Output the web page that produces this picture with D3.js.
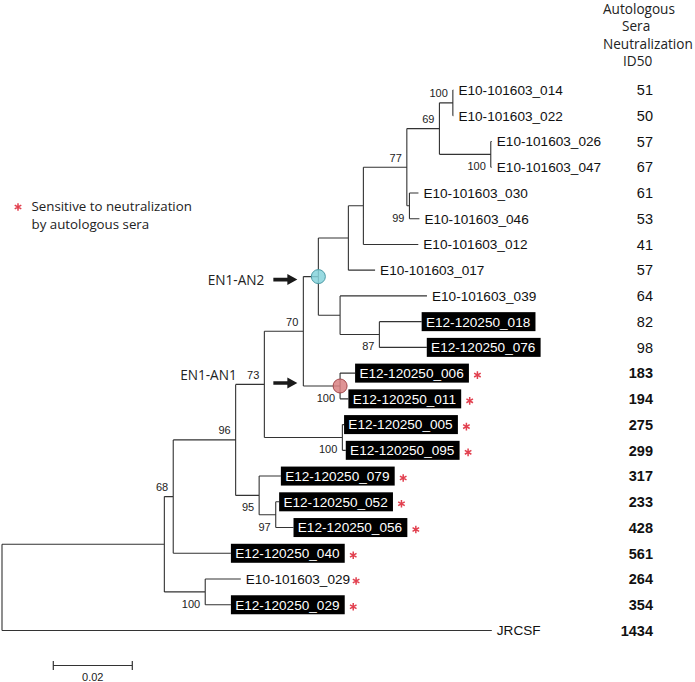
<!DOCTYPE html>
<html><head><meta charset="utf-8">
<script src="https://cdn.jsdelivr.net/npm/d3@7"></script>
<style>
body{margin:0;background:#fff}
svg{display:block}
</style></head><body>
<svg id="chart" width="695" height="682"></svg>
<script>
// ---------- DATA ----------
const nodeIds = ["root","A","N68","N96","N73","N70","AN2","NB","NC","N77","N69","N100a",
  "E10-101603_014","E10-101603_022","N100b","E10-101603_026","E10-101603_047","N99",
  "E10-101603_030","E10-101603_046","E10-101603_012","E10-101603_017","ND","E10-101603_039",
  "N87","E12-120250_018","E12-120250_076","AN1","E12-120250_006","E12-120250_011","N100c",
  "E12-120250_005","E12-120250_095","N95","E12-120250_079","N97","E12-120250_052",
  "E12-120250_056","E12-120250_040","N100d","E10-101603_029","E12-120250_029","JRCSF"];
const parentIds = [null,"root","A","N68","N96","N73","N70","AN2","NB","NC","N77","N69",
  "N100a","N100a","N69","N100b","N100b","N77",
  "N99","N99","NC","NB","AN2","ND",
  "ND","N87","N87","N70","AN1","AN1","N73",
  "N100c","N100c","N96","N95","N95","N97",
  "N97","N68","A","N100d","N100d","root"];
const branchLengths = [0,0.0411,0.00225,0.0158,0.00727,0.00987,0.0038,0.0076,0.0038,0.011,0.00825,0.0034,
  0.00015,0.00015,0.013,0.00025,0.00025,0.00066,
  0.00228,0.00253,0.0139,0.00676,0.0055,0.022,
  0.00995,0.0107,0.012,0.0093,0.0038,0.0021,0.01975,
  0.00043,0.00086,0.00595,0.0055,0.0042,0.00086,
  0.0045,0.0146,0.01035,0.009,0.0065,0.124];
const bootstrap = [null,null,68,96,73,70,null,null,null,77,69,100,
  null,null,100,null,null,99,
  null,null,null,null,null,null,
  87,null,null,100,null,null,100,
  null,null,95,null,97,null,
  null,null,100,null,null,null];

const leafNames = ["E10-101603_014","E10-101603_022","E10-101603_026","E10-101603_047",
  "E10-101603_030","E10-101603_046","E10-101603_012","E10-101603_017","E10-101603_039",
  "E12-120250_018","E12-120250_076","E12-120250_006","E12-120250_011","E12-120250_005",
  "E12-120250_095","E12-120250_079","E12-120250_052","E12-120250_056","E12-120250_040",
  "E10-101603_029","E12-120250_029","JRCSF"];
const id50 = [51,50,57,67,61,53,41,57,64,82,98,183,194,275,299,317,233,428,561,264,354,1434];
const sensitive = [0,0,0,0,0,0,0,0,0,0,0,1,1,1,1,1,1,1,1,1,1,0];

const headerLines = ["Autologous","Sera","Neutralization","ID50"];
const legendLines = ["Sensitive to neutralization","by autologous sera"];
const cladeLabels = ["EN1-AN2","EN1-AN1"];
const cladeNodes = ["AN2","AN1"];
const scaleBarValue = 0.02;

// ---------- STYLE / LAYOUT ----------
const bootAbove = new Set(["N68","N96","N73","N70","N77","N69","N100a"]);
const lineColor = "#333";
const red = "#e2404f";
const treeFont = "'Liberation Sans', Arial, sans-serif";
const sansFont = "'Open Sans', 'Noto Sans', sans-serif";

const svg = d3.select("#chart");
const x = d3.scaleLinear().domain([0, 0.1]).range([2, 397]);
const y = d3.scalePoint().domain(leafNames).range([90, 630.5]);

const table = nodeIds.map((id, i) => ({id, parent: parentIds[i], len: branchLengths[i], boot: bootstrap[i]}));
const root = d3.stratify().id(d => d.id).parentId(d => d.parent)(table);
root.eachBefore(d => { d.dist = d.parent ? d.parent.dist + d.data.len : 0; d.px = x(d.dist); });
root.eachAfter(d => {
  if (d.children) d.py = (d.children[0].py + d.children[d.children.length - 1].py) / 2;
  else d.py = y(d.id);
});

const g = svg.append("g");
// branches
const paths = [];
root.each(d => {
  if (d.parent) paths.push(`M${d.parent.px},${d.py}H${d.px}`);
  if (d.children) paths.push(`M${d.px},${d.children[0].py}V${d.children[d.children.length-1].py}`);
});
g.append("path").attr("d", paths.join("")).attr("fill", "none")
  .attr("stroke", lineColor).attr("stroke-width", 1.1);

// bootstrap labels
root.descendants().filter(d => d.data.boot != null).forEach(d => {
  g.append("text").attr("x", d.px - 5)
    .attr("y", bootAbove.has(d.id) ? d.py - 9.5 : d.py + 12)
    .attr("dy", "0.35em").attr("text-anchor", "end")
    .attr("font-family", treeFont).attr("font-size", 11).attr("fill", "#222")
    .text(d.data.boot);
});

// clade node circles
const circleStyle = {AN2: {fill: "#86d3dc", stroke: "#4b9aa5"}, AN1: {fill: "#d98183", stroke: "#a3494c"}};
root.descendants().filter(d => circleStyle[d.id]).forEach(d => {
  g.append("circle").attr("cx", d.px).attr("cy", d.py).attr("r", 7)
    .attr("fill", circleStyle[d.id].fill).attr("fill-opacity", 0.85)
    .attr("stroke", circleStyle[d.id].stroke).attr("stroke-width", 1);
});

// leaves
const leafMap = new Map(root.leaves().map(d => [d.id, d]));
const asterisk = d3.symbol().type(d3.symbolAsterisk).size(40);
leafNames.forEach((name, i) => {
  const d = leafMap.get(name);
  const boxed = name.startsWith("E12");
  let right;
  if (boxed) {
    const rect = g.append("rect").attr("x", d.px).attr("y", d.py - 9.5).attr("height", 19).attr("fill", "#000");
    const t = g.append("text").attr("x", d.px + 4.3).attr("y", d.py).attr("dy", "0.36em")
      .attr("font-family", treeFont).attr("font-size", 13.6).attr("fill", "#fff").text(name);
    const w = t.node().getComputedTextLength() + 9.5;
    rect.attr("width", w);
    right = d.px + w + 8.5;
  } else {
    const t = g.append("text").attr("x", d.px + 5).attr("y", d.py).attr("dy", "0.36em")
      .attr("font-family", treeFont).attr("font-size", 13.6).attr("fill", "#111").text(name);
    right = d.px + 5 + t.node().getComputedTextLength() + 6;
  }
  if (sensitive[i]) {
    g.append("path").attr("d", asterisk()).attr("transform", `translate(${right},${d.py + 2})`)
      .attr("fill", "none").attr("stroke", red).attr("stroke-width", 1.5);
  }
  g.append("text").attr("x", 653).attr("y", d.py).attr("dy", "0.36em").attr("text-anchor", "end")
    .attr("font-family", treeFont).attr("font-size", 14.5)
    .attr("font-weight", id50[i] >= 150 ? "bold" : "normal").attr("fill", "#111").text(id50[i]);
});

// header
const headerX = [603, 622, 603, 623];
headerLines.forEach((s, i) => {
  svg.append("text").attr("x", headerX[i]).attr("y", 13.5 + i * 17.6)
    .attr("font-family", sansFont).attr("font-size", 13.6).attr("fill", "#222").text(s);
});

// legend
svg.append("path").attr("d", asterisk()).attr("transform", "translate(18,207)")
  .attr("fill", "none").attr("stroke", red).attr("stroke-width", 1.5);
legendLines.forEach((s, i) => {
  svg.append("text").attr("x", 31.5).attr("y", 211 + i * 18)
    .attr("font-family", sansFont).attr("font-size", 13.3).attr("fill", "#222").text(s);
});

// clade annotations with arrows
const n70 = root.descendants().find(d => d.id === "N70");
const arrowDy = [3, -3];
cladeNodes.forEach((id, i) => {
  const d = root.descendants().find(n => n.id === id);
  const tipX = n70.px - 6, ay = d.py + arrowDy[i];
  const tail = tipX - 24;
  svg.append("path")
    .attr("d", `M${tail},${ay-1.8}H${tipX-10}V${ay-5.5}L${tipX},${ay}L${tipX-10},${ay+5.5}V${ay+1.8}H${tail}Z`)
    .attr("fill", "#1a1a1a");
  const lx = i === 0 ? tail - 9 : 236.7;
  const ly = i === 0 ? ay + 5 : ay - 3;
  svg.append("text").attr("x", lx).attr("y", ly).attr("text-anchor", "end")
    .attr("font-family", sansFont).attr("font-size", 13.6).attr("fill", "#222").text(cladeLabels[i]);
});

// scale bar
const sbX0 = 53.3, sbY = 665.5;
const sbX1 = sbX0 + (x(scaleBarValue) - x(0));
svg.append("path").attr("d", `M${sbX0},${sbY}H${sbX1}M${sbX0},${sbY-4.5}V${sbY+4.5}M${sbX1},${sbY-4.5}V${sbY+4.5}`)
  .attr("stroke", lineColor).attr("stroke-width", 1.2).attr("fill", "none");
svg.append("text").attr("x", (sbX0 + sbX1) / 2).attr("y", 681).attr("text-anchor", "middle")
  .attr("font-family", treeFont).attr("font-size", 11).attr("fill", "#222").text(scaleBarValue);
</script>
</body></html>
